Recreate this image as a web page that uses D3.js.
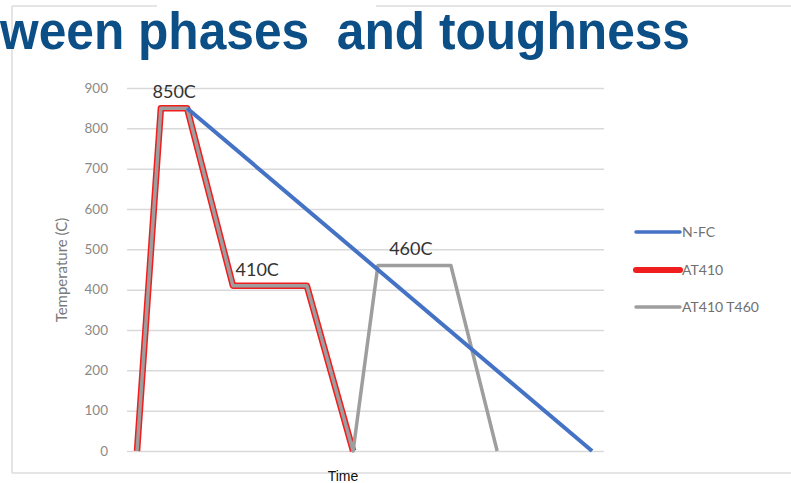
<!DOCTYPE html>
<html><head><meta charset="utf-8">
<script src="https://cdn.jsdelivr.net/npm/d3@7"></script>
<style>body{margin:0;background:#fff;}svg{display:block;}</style>
</head><body><svg id="c" width="791" height="483"></svg>
<script>
const title = "ween phases  and toughness";
const yTicks = [0,100,200,300,400,500,600,700,800,900];
const seriesNames = ["N-FC","AT410","AT410 T460"];
const nfcTime = [12.6, 97.5];
const nfcTemp = [850, 0];
const at410Time = [2.1, 7.1, 12.6, 22.2, 37.7, 47.4];
const at410Temp = [0, 850, 850, 410, 410, 0];
const t460Time = [2.1, 7.1, 12.6, 22.2, 37.7, 47.4, 52.6, 67.9, 77.6];
const t460Temp = [0, 850, 850, 410, 410, 0, 460, 460, 0];
const annotations = [{t:9.9, v:850, text:"850C"},{t:27.3, v:410, text:"410C"},{t:59.5, v:460, text:"460C"}];

const svg = d3.select("#c");
const x = d3.scaleLinear().domain([0,100]).range([127,604]);
const y = d3.scaleLinear().domain([0,900]).range([451,88]);

// frame
svg.append("line").attr("x1",12).attr("x2",157).attr("y1",6).attr("y2",6).attr("stroke","#dcdcdc").attr("stroke-width",1.5);
svg.append("line").attr("x1",376).attr("x2",791).attr("y1",6).attr("y2",6).attr("stroke","#dcdcdc").attr("stroke-width",1.5);
svg.append("line").attr("x1",12).attr("x2",12).attr("y1",6).attr("y2",473).attr("stroke","#dcdcdc").attr("stroke-width",1.5);
svg.append("line").attr("x1",12).attr("x2",791).attr("y1",473).attr("y2",473).attr("stroke","#dcdcdc").attr("stroke-width",1.5);

svg.append("text").attr("x",0).attr("y",49).attr("font-family","Liberation Sans, Arial, sans-serif")
  .attr("font-weight","bold").attr("font-size",51).attr("fill","#0b4f86")
  .attr("textLength",690).attr("lengthAdjust","spacingAndGlyphs")
  .style("white-space","pre").attr("xml:space","preserve").text(title);

// grid & y axis
const ax = svg.append("g").attr("transform","translate(127,0)")
  .call(d3.axisLeft(y).tickValues(yTicks).tickSize(-477).tickPadding(19));
ax.select(".domain").remove();
ax.selectAll(".tick line").attr("stroke","#d9d9d9").attr("stroke-width",1.5);
ax.selectAll(".tick text").attr("fill","#8a8a8a").attr("font-size",13.5).attr("font-family","Lato, 'Open Sans', sans-serif");

svg.append("text").attr("transform","translate(67,270) rotate(-90)").attr("text-anchor","middle")
  .attr("font-family","Lato, 'Open Sans', sans-serif").attr("font-size",15).attr("fill","#7a7a7a").text("Temperature (C)");

const line = d3.line().x(d=>x(d[0])).y(d=>y(d[1]));
const zip = (a,b)=>a.map((v,i)=>[v,b[i]]);

svg.append("path").attr("d",line(zip(at410Time,at410Temp))).attr("fill","none").attr("stroke","#f01e1e").attr("stroke-width",6.5).attr("stroke-linejoin","round");
svg.append("path").attr("d",line(zip(t460Time,t460Temp))).attr("fill","none").attr("stroke","#9e9e9e").attr("stroke-width",3.5).attr("stroke-linejoin","round");
svg.append("path").attr("d",line(zip(nfcTime,nfcTemp))).attr("fill","none").attr("stroke","#4472c4").attr("stroke-width",4);

svg.selectAll(".ann").data(annotations).enter().append("text")
  .attr("x",d=>x(d.t)).attr("y",d=>y(d.v)-10).attr("text-anchor","middle")
  .attr("font-family","Lato, 'Open Sans', sans-serif").attr("font-size",18).attr("fill","#333").text(d=>d.text);

// legend
const legColors = ["#4472c4","#f01e1e","#9e9e9e"];
const legW = [3.5,6,3.5];
const legY = [232,270,307];
seriesNames.forEach((n,i)=>{
  svg.append("line").attr("x1",636).attr("x2",680).attr("y1",legY[i]).attr("y2",legY[i]).attr("stroke",legColors[i]).attr("stroke-width",legW[i]).attr("stroke-linecap","round");
  svg.append("text").attr("x",682).attr("y",legY[i]+5).attr("font-family","Lato, 'Open Sans', sans-serif").attr("font-size",14).attr("fill","#707070").text(n);
});

svg.append("text").attr("x",343).attr("y",481).attr("text-anchor","middle").attr("font-family","Liberation Sans, Arial, sans-serif").attr("font-size",14).attr("fill","#111").text("Time");
</script></body></html>
